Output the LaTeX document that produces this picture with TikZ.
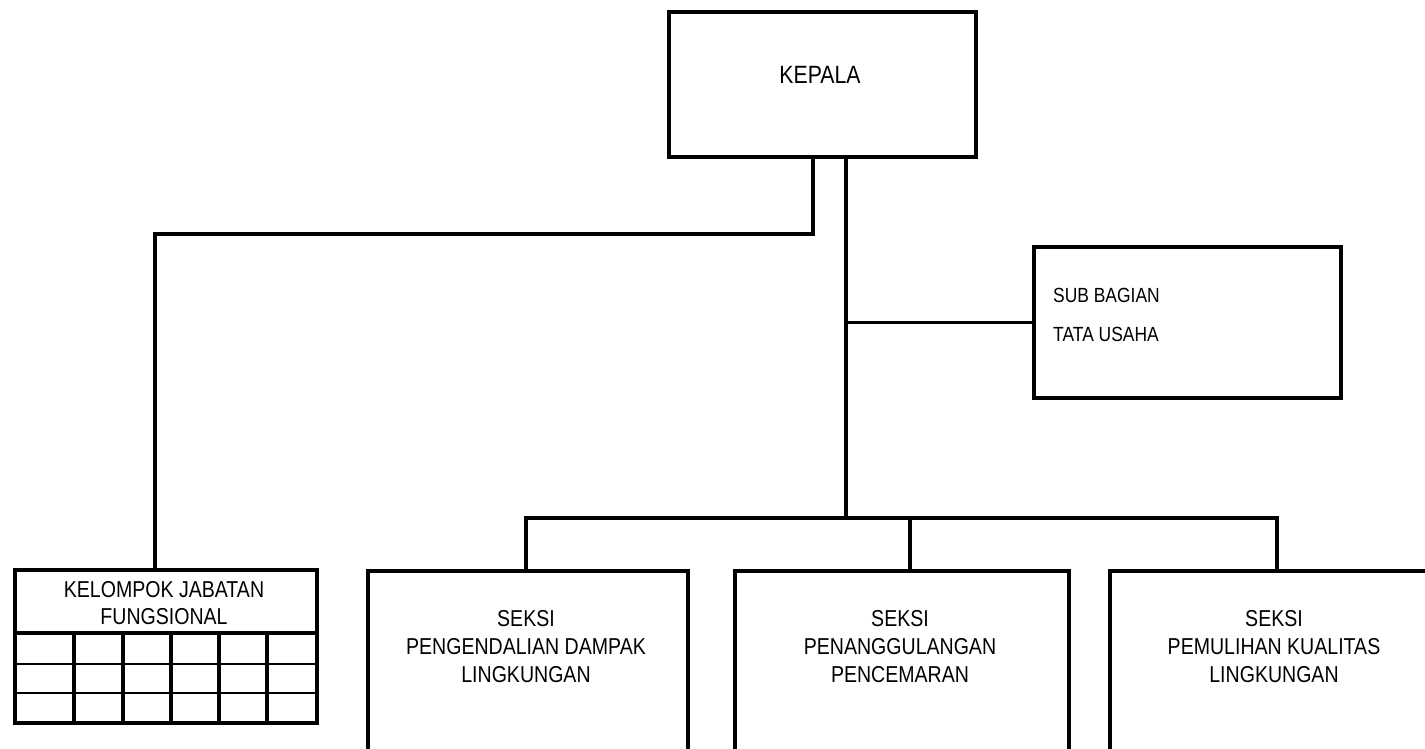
\documentclass[tikz,border=0pt]{standalone}
\usepackage{fontspec}
\setmainfont{Liberation Sans}[FakeStretch=0.85]
\begin{document}
\begin{tikzpicture}[x=1pt,y=-1pt,
  box/.style={draw,line width=4pt,rectangle,inner sep=0pt,anchor=north west},
  conn/.style={draw,line width=3.8pt},
  txt/.style={inner sep=0pt,align=center},
  thin/.style={draw,line width=2.2pt},
  col/.style={draw,line width=3.2pt}]
\useasboundingbox (0,0) rectangle (1425,748);
\clip (0,0) rectangle (1425,748);
% boxes
\node[box,minimum width=307pt,minimum height=145pt] (kepala) at (667,10) {};
\node[txt,font=\fontsize{25}{30}\selectfont] (kepalat) at (820,75) {KEPALA};
\node[box,minimum width=307pt,minimum height=151pt] (sub) at (1032,245) {};
\node[txt,anchor=west,align=left,font=\fontsize{20.5}{39}\selectfont] (subt) at (1053,314.5) {SUB BAGIAN\\TATA USAHA};
\node[box,minimum width=302pt,minimum height=153pt] (kel) at (13,568) {};
\node[txt,font=\fontsize{23}{27}\selectfont] (kelt) at (164,603.5) {KELOMPOK JABATAN\\FUNGSIONAL};
\node[box,minimum width=320pt,minimum height=240pt] (s1) at (366,569) {};
\node[box,minimum width=334pt,minimum height=240pt] (s2) at (733,569) {};
\node[box,minimum width=332pt,minimum height=240pt] (s3) at (1108,569) {};
\node[txt,font=\fontsize{23}{28}\selectfont] (s1t) at (526,647) {SEKSI\\PENGENDALIAN DAMPAK\\LINGKUNGAN};
\node[txt,font=\fontsize{23}{28}\selectfont] (s2t) at (900,647) {SEKSI\\PENANGGULANGAN\\PENCEMARAN};
\node[txt,font=\fontsize{23}{28}\selectfont] (s3t) at (1274,647) {SEKSI\\PEMULIHAN KUALITAS\\LINGKUNGAN};
% grid of kelompok
\draw[line width=3.5pt] (13,633) -- (315,633);
\draw[thin] (13,664) -- (315,664) (13,693) -- (315,693);
\foreach \x in {74,123,171,219,267} \draw[col] (\x,633) -- (\x,721);
% connectors
\coordinate (kl) at (155,234);
\coordinate (bus) at (846,518);
\coordinate (b1) at (526,518);
\coordinate (b2) at (910,518);
\coordinate (b3) at (1277,518);
\draw[conn] (kepala.south -| 813,0) |- (kl) -- (kl |- kel.north);
\draw[conn] (kepala.south -| bus) -- (bus);
\draw[conn] (sub.west -| bus) -- (sub.west);
\draw[conn] (b1 |- s1.north) -- (b1) -- (b3) -- (b3 |- s3.north);
\draw[conn] (b2) -- (b2 |- s2.north);
\end{tikzpicture}
\end{document}
